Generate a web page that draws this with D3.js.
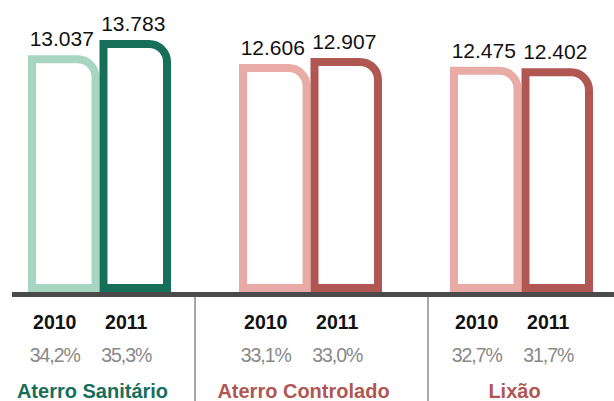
<!DOCTYPE html>
<html>
<head>
<meta charset="utf-8">
<title>Destinação final RSU</title>
<style type="text/css">
	body { margin: 0px; background-color: #fff; }
	svg { display: block; }
	text { font-family: "Liberation Sans", Arial, Helvetica, sans-serif; }
</style>
<script src="https://cdn.jsdelivr.net/npm/d3@7"></script>
</head>
<body>
<script type="text/javascript">
// data (t/dia)
var categories = ["Aterro Sanitário", "Aterro Controlado", "Lixão"];
var years = ["2010", "2011"];
var values2010 = [13037, 12606, 12475];
var values2011 = [13783, 12907, 12402];
var share2010 = [34.2, 33.1, 32.7];
var share2011 = [35.3, 33.0, 31.7];

var width = 614, height = 401;
var baseline = 292;
var strokeW = 8;
var radius = 18;

// colours per category: [2010, 2011, label]
var palette = [
	["#a8d5c1", "#176f5a", "#176f5a"],
	["#e8aba6", "#b05754", "#b05754"],
	["#e8aba6", "#b05754", "#b05754"]
];

var ptBR = d3.formatLocale({decimal: ",", thousands: ".", grouping: [3], currency: ["R$", ""]});
var fmtVal = ptBR.format(",d");
var fmtPct = ptBR.format(".1f");

var rows = [];
categories.forEach(function(c, i) {
	rows.push({cat: c, gi: i, year: years[0], value: values2010[i], share: share2010[i], color: palette[i][0]});
	rows.push({cat: c, gi: i, year: years[1], value: values2011[i], share: share2011[i], color: palette[i][1]});
});

var svg = d3.select("body").append("svg")
	.attr("width", width)
	.attr("height", height);

var x0 = d3.scaleBand().domain(categories).range([-6, 627]);
var inner = 143;
var x1 = d3.scaleBand().domain(years).range([0, inner]);
// outer top edge of the bar
var y = d3.scaleLinear().domain([1440, 13783]).range([baseline, 40]);

function barLeft(d) {
	return x0(d.cat) + (x0.bandwidth() - inner) / 2 + x1(d.year);
}
function barCenter(d) {
	return barLeft(d) + x1.bandwidth() / 2;
}

function barPath(d) {
	var h = strokeW / 2;
	var l = barLeft(d) + h, r = barLeft(d) + x1.bandwidth() - h;
	var t = y(d.value) + h, b = baseline - h;
	return "M" + l + "," + b + "V" + t + "H" + (r - radius) +
		"A" + radius + "," + radius + " 0 0 1 " + r + "," + (t + radius) +
		"V" + b + "Z";
}

svg.selectAll(".bar")
	.data(rows)
	.enter()
		.append("path")
		.attr("class", "bar")
		.attr("d", barPath)
		.style("fill", "#fff")
		.style("stroke", function(d) { return d.color; })
		.style("stroke-width", strokeW);

svg.selectAll(".val")
	.data(rows)
	.enter()
		.append("text")
		.attr("class", "val")
		.attr("x", function(d) { return barCenter(d) - 2; })
		.attr("y", function(d) { return y(d.value) - 9; })
		.attr("text-anchor", "middle")
		.style("font-size", "21px")
		.style("fill", "#111")
		.text(function(d) { return fmtVal(d.value); });

// baseline
svg.append("line")
	.attr("x1", 12)
	.attr("x2", width)
	.attr("y1", baseline + 2.5)
	.attr("y2", baseline + 2.5)
	.style("stroke", "#4a4a4a")
	.style("stroke-width", 5);

// separators between groups
var dividerNudge = [-10, 12];
svg.selectAll(".divider")
	.data(categories.slice(1))
	.enter()
		.append("line")
		.attr("class", "divider")
		.attr("x1", function(c, i) { return x0(c) + dividerNudge[i]; })
		.attr("x2", function(c, i) { return x0(c) + dividerNudge[i]; })
		.attr("y1", baseline + 5)
		.attr("y2", height)
		.style("stroke", "#a8a8a8")
		.style("stroke-width", 2);

svg.selectAll(".year")
	.data(rows)
	.enter()
		.append("text")
		.attr("class", "year")
		.attr("x", function(d) { return barCenter(d) - 9; })
		.attr("y", 329)
		.attr("text-anchor", "middle")
		.style("font-size", "19.5px")
		.style("font-weight", "bold")
		.style("fill", "#111")
		.text(function(d) { return d.year; });

svg.selectAll(".pct")
	.data(rows)
	.enter()
		.append("text")
		.attr("class", "pct")
		.attr("x", function(d) { return barCenter(d) - 9; })
		.attr("y", 362)
		.attr("text-anchor", "middle")
		.style("font-size", "19.5px")
		.style("letter-spacing", "-1.1px")
		.style("fill", "#888")
		.text(function(d) { return fmtPct(d.share) + "%"; });

svg.selectAll(".cat")
	.data(categories)
	.enter()
		.append("text")
		.attr("class", "cat")
		.attr("x", function(c) { return x0(c) + x0.bandwidth() / 2 - 7; })
		.attr("y", 398)
		.attr("text-anchor", "middle")
		.style("font-size", "20px")
		.style("font-weight", "bold")
		.style("fill", function(c, i) { return palette[i][2]; })
		.text(function(c) { return c; });
</script>
</body>
</html>
